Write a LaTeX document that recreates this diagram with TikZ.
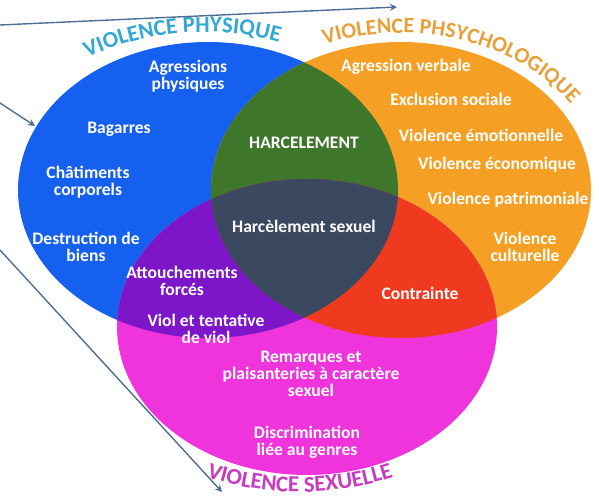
\documentclass[tikz,border=0pt]{standalone}
\usepackage{fontspec}
\setmainfont{Carlito}
\usetikzlibrary{decorations.text}
\definecolor{cbleu}{RGB}{22,96,240}
\definecolor{corange}{RGB}{245,160,36}
\definecolor{cmagenta}{RGB}{238,52,218}
\definecolor{cvert}{RGB}{62,118,44}
\definecolor{cviolet}{RGB}{124,22,200}
\definecolor{crouge}{RGB}{240,58,32}
\definecolor{cgris}{RGB}{58,72,96}
\definecolor{cfleche}{RGB}{78,110,150}
\definecolor{tphys}{RGB}{50,168,212}
\definecolor{tpsy}{RGB}{232,160,56}
\definecolor{tsex}{RGB}{200,60,192}
\tikzset{
  lbl/.style={text=white, align=center, inner sep=0pt},
  fleche/.style={->, draw=cfleche, line width=0.8pt},
}
\begin{document}
\begin{tikzpicture}[x=0.02cm, y=0.02cm, line join=round, line cap=round, >=stealth,
  font=\bfseries\fontsize{10}{9.6}\selectfont]
				\useasboundingbox (0,0) rectangle (599,497);
				\def\rx{190}
				\def\ry{148}
				\path
				(208,307) coordinate (P)
				(401,307) coordinate (Y)
				(307,170) coordinate (S)
				;
				% les trois ensembles
				\fill[cbleu] (P) ellipse ({\rx} and {\ry});
				\fill[corange] (Y) ellipse ({\rx} and {\ry});
				\fill[cmagenta] (S) ellipse ({\rx} and {\ry});
				\begin{scope}
					\clip (P) ellipse ({\rx} and {\ry});
					\fill[cvert] (Y) ellipse ({\rx} and {\ry});
					\fill[cviolet] (S) ellipse ({\rx} and {\ry});
				\end{scope}
				\begin{scope}
					\clip (Y) ellipse ({\rx} and {\ry});
					\fill[crouge] (S) ellipse ({\rx} and {\ry});
					\clip (P) ellipse ({\rx} and {\ry});
					\fill[cgris] (S) ellipse ({\rx} and {\ry});
				\end{scope}
				
				% titres
				\path[decorate, decoration={text along path, text align=center, text color=tphys,
					text={|\fontsize{13}{13}\selectfont\bfseries|VIOLENCE PHYSIQUE}}]
				(204,185) ++(117:280) arc (117:72:280);
				\path[decorate, decoration={text along path, text align=center, text color=tpsy,
					text={|\fontsize{12.5}{13}\selectfont\bfseries|VIOLENCE PHSYCHOLOGIQUE}}]
				(Y) ++(114:203 and 157) arc (114:31:203 and 157);
				\path[decorate, decoration={text along path, text align=center, text color=tsex,
					text={|\fontsize{13}{13}\selectfont\bfseries|VIOLENCE SEXUELLE}}]
				(300,305) ++(-109:300) arc (-109:-71:300);
				
				% fleches
				\path
				(0,472) coordinate (f1a) (397,490) coordinate (f1b)
				(0,394) coordinate (f2a) (35,371) coordinate (f2b)
				(0,247) coordinate (f3a) (222,5) coordinate (f3b)
				;
				\draw[fleche] (f1a) -- (f1b);
				\draw[fleche] (f2a) -- (f2b);
				\draw[fleche] (f3a) -- (f3b);
				
				% physique
				\node[lbl] (agp) at (188,421) {Agressions\\physiques};
				\node[lbl] (bag) at (119,368) {Bagarres};
				\node[lbl] (cha) at (88,315) {Châtiments\\corporels};
				\node[lbl] (des) at (86,250) {Destruction de\\biens};
				% intersections
				\node[lbl] (har) at (304,354) {HARCELEMENT};
				\node[lbl] (hsx) at (304,271) {Harcèlement sexuel};
				\node[lbl] (att) at (182,216) {Attouchements\\forcés};
				\node[lbl] (vio) at (206,168) {Viol et tentative\\de viol};
				\node[lbl] (con) at (420,204) {Contrainte};
				% psychologique
				\node[lbl] (agv) at (406,430) {Agression verbale};
				\node[lbl] (exc) at (451,398) {Exclusion sociale};
				\node[lbl] (emo) at (481,362) {Violence émotionnelle};
				\node[lbl] (eco) at (497,332) {Violence économique};
				\node[lbl] (pat) at (508,297) {Violence patrimoniale};
				\node[lbl] (cul) at (525,250) {Violence\\culturelle};
				% sexuelle
				\node[lbl] (rem) at (311,123) {Remarques et\\plaisanteries à caractère\\sexuel};
				\node[lbl] (dis) at (307,55) {Discrimination\\liée au genres};
		\end{tikzpicture}
\end{document}
